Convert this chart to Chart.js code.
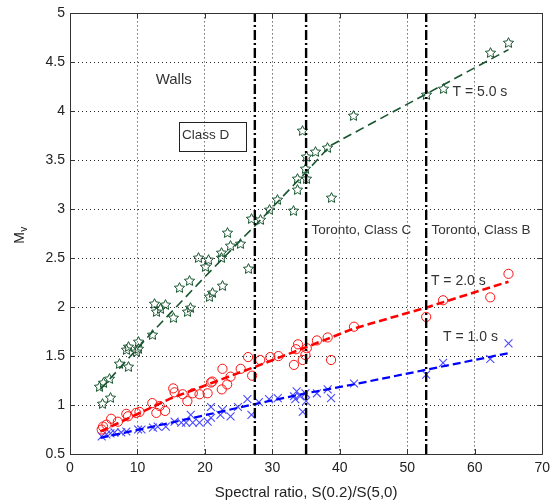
<!DOCTYPE html>
<html>
<head>
<meta charset="utf-8">
<script src="https://cdn.jsdelivr.net/npm/chart.js@4.4.1/dist/chart.umd.min.js"></script>
<style>
  html, body { margin: 0; padding: 0; background: #fff; }
  #wrap { width: 556px; height: 502px; }
</style>
</head>
<body>
<div id="wrap"><canvas id="c" width="556" height="502"></canvas></div>
<script>
// Walls: period T = 5.0 s (stars)
const t50X = [4.4, 4.9, 5.9, 4.8, 6.0, 7.3, 8.6, 8.35, 8.6, 10.1, 9.9, 10.2, 12.2, 12.5, 12.8, 13.4, 14.2, 15.3,
  16.3, 17.4, 17.9, 17.7, 19.1, 20.1, 20.6, 20.7, 21.1, 22.6, 22.5, 22.4, 23.3, 23.8, 25.3, 26.4, 26.9, 28.2,
  29.5, 30.8, 33.1, 33.7, 33.7, 35.0, 34.9, 35.0, 34.4, 36.4, 38.2, 38.7, 42.0, 52.8, 55.3, 62.3, 65.0];
const t50Y = [1.19, 1.23, 1.27, 1.02, 1.08, 1.42, 1.39, 1.57, 1.60, 1.58, 1.55, 1.65, 1.72, 2.04, 1.96, 1.99, 2.03, 1.89,
  2.20, 1.96, 2.00, 2.27, 2.51, 2.41, 2.49, 2.11, 2.15, 2.22, 2.56, 2.51, 2.76, 2.63, 2.65, 2.39, 2.91, 2.89,
  3.00, 3.10, 2.99, 3.20, 3.31, 3.31, 3.42, 3.54, 3.80, 3.59, 3.63, 3.12, 3.96, 4.17, 4.23, 4.60, 4.70];

// T = 2.0 s (circles)
const t20X = [4.7, 4.9, 5.4, 6.1, 7.1, 8.35, 8.6, 9.8, 10.3, 12.2, 12.8, 13.3, 14.1, 15.3, 15.5, 16.7, 17.4, 18.2,
  19.2, 20.4, 20.9, 21.1, 22.5, 22.6, 23.3, 23.8, 25.3, 26.4, 27.0, 28.2, 29.7, 30.9, 33.2, 33.8, 33.5, 34.5,
  34.9, 35.1, 36.6, 38.2, 38.7, 42.1, 52.8, 55.3, 62.3, 65.0];
const t20Y = [0.75, 0.78, 0.80, 0.86, 0.83, 0.91, 0.885, 0.92, 0.93, 1.02, 0.92, 0.99, 0.94, 1.17, 1.13, 1.11, 1.04, 1.12,
  1.11, 1.12, 1.23, 1.24, 1.16, 1.37, 1.21, 1.29, 1.37, 1.49, 1.30, 1.46, 1.49, 1.50, 1.41, 1.62, 1.57, 1.46,
  1.51, 1.58, 1.66, 1.69, 1.46, 1.80, 1.90, 2.07, 2.10, 2.34];

// T = 1.0 s (crosses)
const t10X = [4.7, 5.4, 6.0, 6.6, 7.6, 8.35, 10.1, 10.6, 12.3, 13.0, 14.2, 15.5, 16.5, 17.2, 17.9, 18.2, 19.2, 20.4,
  20.9, 20.9, 22.6, 22.3, 23.8, 24.9, 26.3, 26.9, 28.0, 29.5, 30.8, 33.2, 33.4, 33.6, 34.1, 34.9, 35.0, 34.5,
  36.6, 38.2, 38.7, 42.1, 52.8, 55.3, 62.3, 65.0];
const t10Y = [0.68, 0.70, 0.71, 0.72, 0.72, 0.73, 0.75, 0.75, 0.77, 0.78, 0.78, 0.83, 0.82, 0.82, 0.90, 0.82, 0.82, 0.83,
  0.87, 0.98, 0.95, 0.90, 0.885, 0.98, 1.06, 0.90, 1.03, 1.06, 1.07, 1.09, 1.06, 1.14, 1.09, 1.12, 1.04, 0.93,
  1.12, 1.16, 1.07, 1.22, 1.31, 1.43, 1.47, 1.63];

// Fitted trend lines (break points)
const fit50X = [4.5, 12, 20, 27.4, 35, 38.6, 65];
const fit50Y = [1.16, 1.73, 2.31, 2.83, 3.38, 3.65, 4.63];
const fit20X = [4.5, 15, 27.4, 35, 42, 53, 65];
const fit20Y = [0.73, 1.07, 1.39, 1.59, 1.78, 2.00, 2.26];
const fit10X = [4.5, 15, 27.4, 35, 42, 65];
const fit10Y = [0.665, 0.82, 1.01, 1.12, 1.21, 1.53];

// Site class boundaries on the spectral ratio
const classBounds = [27.4, 35.0, 52.8];

// Axis ticks
const xTicks = [0, 10, 20, 30, 40, 50, 60, 70];
const yTicks = [0.5, 1, 1.5, 2, 2.5, 3, 3.5, 4, 4.5, 5];

const GREEN = '#18552f';
const pts = (xs, ys) => xs.map((x, i) => ({ x, y: ys[i] }));

// Outlined five-point star marker
function starMarker(color) {
  const c = document.createElement('canvas');
  c.width = 13; c.height = 13;
  const g = c.getContext('2d');
  g.strokeStyle = color; g.lineWidth = 1;
  g.beginPath();
  for (let i = 0; i < 10; i++) {
    const r = i % 2 ? 2.6 : 5.4;
    const a = -Math.PI / 2 + i * Math.PI / 5;
    const px = 6.5 + r * Math.cos(a), py = 7.0 + r * Math.sin(a);
    i ? g.lineTo(px, py) : g.moveTo(px, py);
  }
  g.closePath(); g.stroke();
  return c;
}

const datasets = [
  { data: pts(t50X, t50Y), pointStyle: starMarker(GREEN), pointRadius: 5, showLine: false, order: 5 },
  { data: pts(t20X, t20Y), pointStyle: 'circle', pointRadius: 4.6, borderColor: '#ff1010',
    backgroundColor: 'rgba(0,0,0,0)', pointBorderWidth: 1, showLine: false, order: 6 },
  { data: pts(t10X, t10Y), pointStyle: 'crossRot', pointRadius: 5.6, borderColor: '#4a4aff',
    pointBorderWidth: 1.1, showLine: false, order: 7 },
  { data: pts(fit50X, fit50Y), showLine: true, borderColor: GREEN, borderWidth: 1.6, borderDash: [9, 5],
    pointRadius: 0, order: 3 },
  { data: pts(fit20X, fit20Y), showLine: true, borderColor: '#ff0000', borderWidth: 2.6, borderDash: [8, 4],
    pointRadius: 0, order: 3 },
  { data: pts(fit10X, fit10Y), showLine: true, borderColor: '#0000ff', borderWidth: 2.2, borderDash: [8, 4],
    pointRadius: 0, order: 3 },
];
classBounds.forEach(b => datasets.push({
  data: [{ x: b, y: 0.5 }, { x: b, y: 5 }], showLine: true, borderColor: '#000', borderWidth: 2.4,
  borderDash: [10, 3, 2, 3], pointRadius: 0, order: 1
}));

// Text placed in data coordinates
const notes = [
  { text: 'Walls', x: 12.7, y: 4.32, size: 15 },
  { text: 'Class D', x: 16.6, y: 3.755, size: 13.5 },
  { text: 'T = 5.0 s', x: 56.7, y: 4.195, size: 14 },
  { text: 'Toronto, Class C', x: 35.8, y: 2.79, size: 13.5 },
  { text: 'Toronto, Class B', x: 53.6, y: 2.79, size: 13.5 },
  { text: 'T = 2.0 s', x: 53.5, y: 2.27, size: 14 },
  { text: 'T = 1.0 s', x: 55.3, y: 1.69, size: 14 },
];
const classDBox = { x0: 16.1, x1: 26.1, y0: 3.89, y1: 3.595 };

const FONT = '"Liberation Sans", Arial, sans-serif';

// keep image markers crisp when placed at fractional pixels
const crispPlugin = {
  id: 'crisp',
  beforeDatasetsDraw(chart) { chart.ctx.imageSmoothingEnabled = false; },
  afterDatasetsDraw(chart) { chart.ctx.imageSmoothingEnabled = true; }
};

const framePlugin = {
  id: 'frame',
  afterDatasetsDraw(chart) {
    const { ctx, chartArea: a, scales: { x, y } } = chart;
    ctx.save();
    // notes
    ctx.fillStyle = '#333';
    ctx.textBaseline = 'middle';
    ctx.textAlign = 'left';
    notes.forEach(n => {
      ctx.font = n.size + 'px ' + FONT;
      ctx.fillText(n.text, x.getPixelForValue(n.x), y.getPixelForValue(n.y));
    });
    ctx.strokeStyle = '#222'; ctx.lineWidth = 1;
    const bx0 = Math.round(x.getPixelForValue(classDBox.x0)) + 0.5;
    const bx1 = Math.round(x.getPixelForValue(classDBox.x1)) + 0.5;
    const by0 = Math.round(y.getPixelForValue(classDBox.y0)) + 0.5;
    const by1 = Math.round(y.getPixelForValue(classDBox.y1)) + 0.5;
    ctx.strokeRect(bx0, by0, bx1 - bx0, by1 - by0);
    // axes box with inward ticks on all sides
    ctx.strokeStyle = '#333';
    ctx.beginPath();
    ctx.rect(Math.round(a.left) + 0.5, Math.round(a.top) + 0.5,
      Math.round(a.right) - Math.round(a.left), Math.round(a.bottom) - Math.round(a.top));
    const L = 5;
    xTicks.forEach(v => {
      const px = Math.round(x.getPixelForValue(v)) + 0.5;
      ctx.moveTo(px, a.bottom); ctx.lineTo(px, a.bottom - L);
      ctx.moveTo(px, a.top); ctx.lineTo(px, a.top + L);
    });
    yTicks.forEach(v => {
      const py = Math.round(y.getPixelForValue(v)) + 0.5;
      ctx.moveTo(a.left, py); ctx.lineTo(a.left + L, py);
      ctx.moveTo(a.right, py); ctx.lineTo(a.right - L, py);
    });
    ctx.stroke();
    // y axis title M with subscript v
    const cy = (a.top + a.bottom) / 2 + 4;
    ctx.translate(28, cy);
    ctx.rotate(-Math.PI / 2);
    ctx.fillStyle = '#222';
    ctx.textBaseline = 'alphabetic';
    ctx.textAlign = 'left';
    ctx.font = '14px ' + FONT;
    ctx.fillText('M', -6, -4);
    ctx.font = '10px ' + FONT;
    ctx.fillText('v', 6, -1);
    ctx.restore();
  }
};

const gridOpts = {
  color: 'rgba(0,0,0,0.85)', lineWidth: 1, drawTicks: false,
};

new Chart(document.getElementById('c'), {
  type: 'scatter',
  data: { datasets },
  options: {
    responsive: false,
    animation: false,
    events: [],
    layout: { padding: { top: 13, right: 11, left: 0, bottom: 0 } },
    plugins: { legend: { display: false }, tooltip: { enabled: false } },
    scales: {
      x: {
        type: 'linear', min: 0, max: 70,
        afterBuildTicks: s => { s.ticks = xTicks.map(v => ({ value: v })); },
        afterFit: s => { s.height = 48; },
        grid: { ...gridOpts },
        border: { display: false, dash: [1, 3] },
        ticks: { padding: 6, color: '#222', font: { family: FONT, size: 14 }, callback: v => String(v) },
        title: { display: true, text: 'Spectral ratio, S(0.2)/S(5,0)', color: '#222',
          font: { family: FONT, size: 15 }, padding: { top: 1, bottom: 0 } }
      },
      y: {
        type: 'linear', min: 0.5, max: 5,
        afterBuildTicks: s => { s.ticks = yTicks.map(v => ({ value: v })); },
        afterFit: s => { s.width = 70; },
        grid: { ...gridOpts },
        border: { display: false, dash: [1, 3] },
        ticks: { padding: 5, color: '#222', font: { family: FONT, size: 14 }, callback: v => String(v) }
      }
    }
  },
  plugins: [crispPlugin, framePlugin]
});
</script>
</body>
</html>
